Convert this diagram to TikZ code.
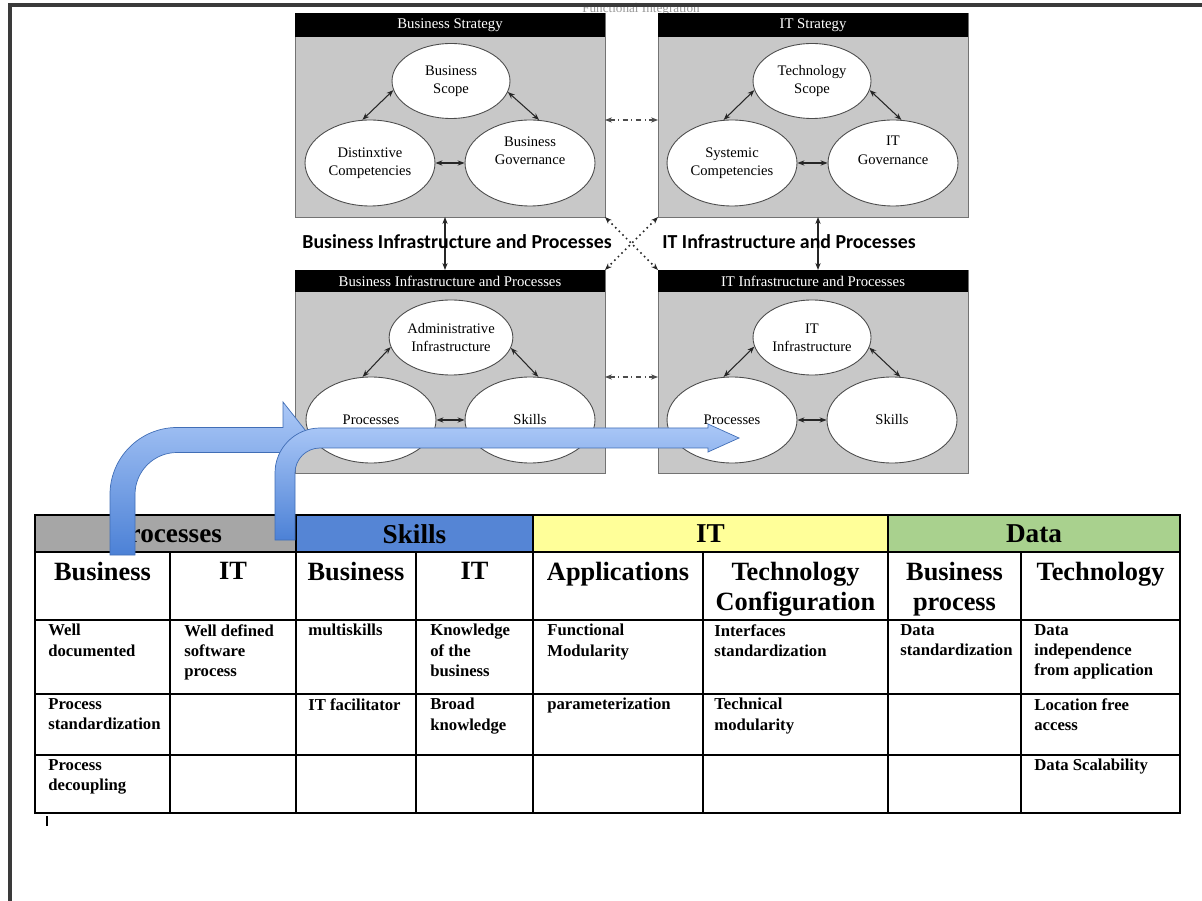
\documentclass[tikz,border=0pt]{standalone}
\usepackage{fontspec}
\setmainfont{Liberation Serif}
\newfontfamily\calibri{Carlito}
\usetikzlibrary{shapes.geometric,arrows.meta}

\definecolor{boxgray}{HTML}{C8C8C8}
\definecolor{procgray}{HTML}{A6A6A6}
\definecolor{skillblue}{HTML}{5585D5}
\definecolor{ityellow}{HTML}{FFFF99}
\definecolor{datagreen}{HTML}{A9D18E}
\definecolor{arrowtop}{HTML}{ABC8F7}
\definecolor{arrowbot}{HTML}{4C81D6}
\definecolor{framegray}{HTML}{3A3A3A}

\tikzset{
  box/.style={draw=black!55, fill=boxgray, line width=0.5pt, inner sep=0pt, outer sep=0pt, minimum width=6.2cm},
  bandtext/.style={text=white, inner sep=0pt, font=\fontsize{8.4}{10}\selectfont},
  bubble/.style={ellipse, draw=black!70, fill=white, line width=0.5pt, inner sep=0pt, align=center, font=\fontsize{8.3}{10.4}\selectfont},
  small/.style={minimum width=2.36cm, minimum height=1.5cm},
  big/.style={minimum width=2.6cm, minimum height=1.72cm},
  link/.style={{Stealth[length=4pt,width=3pt]}-{Stealth[length=4pt,width=3pt]}, line width=0.6pt, black!85},
  midlabel/.style={inner sep=0pt, font=\calibri\bfseries\fontsize{11.3}{13}\selectfont},
  tab/.style={line width=1pt, black},
  grouphead/.style={inner sep=0pt, font=\bfseries\fontsize{15.5}{17}\selectfont},
  subhead/.style={anchor=north, align=center, inner sep=0pt, font=\bfseries\fontsize{15}{17}\selectfont},
  cell/.style={anchor=north west, align=left, inner sep=0pt, font=\bfseries\fontsize{9.5}{11.5}\selectfont},
  bluearrow/.style={top color=arrowtop, bottom color=arrowbot, draw=arrowbot!85!black, line width=0.4pt}
}

\begin{document}
\begin{tikzpicture}[x=0.02cm, y=-0.02cm]
  \useasboundingbox (0,0) rectangle (1202,901);

  \node[inner sep=0pt, text=black!40, font=\fontsize{7.5}{9}\selectfont] (cap) at (641,9) {Functional Integration};

  % the four boxes
  \node[box, minimum height=4.08cm] (bstrat) at (450,115) {};
  \node[box, minimum height=4.08cm] (itstrat) at (813,115) {};
  \node[box, minimum height=4.06cm] (binfra) at (450,371.5) {};
  \node[box, minimum height=4.06cm] (itinfra) at (813,371.5) {};

  \fill (bstrat.north west) rectangle ([yshift=-0.47cm]bstrat.north east);
  \fill (itstrat.north west) rectangle ([yshift=-0.47cm]itstrat.north east);
  \fill (binfra.north west) rectangle ([yshift=-0.44cm]binfra.north east);
  \fill (itinfra.north west) rectangle ([yshift=-0.44cm]itinfra.north east);

  \node[bandtext] (bstrat-t) at ([yshift=-0.24cm]bstrat.north) {Business Strategy};
  \node[bandtext] (itstrat-t) at ([yshift=-0.24cm]itstrat.north) {IT Strategy};
  \node[bandtext] (binfra-t) at ([yshift=-0.22cm]binfra.north) {Business Infrastructure and Processes};
  \node[bandtext] (itinfra-t) at ([yshift=-0.22cm]itinfra.north) {IT Infrastructure and Processes};

  % business strategy
  \node[bubble, small] (bscope) at (451,81) {Business\\Scope};
  \node[bubble, big] (bcomp) at (370,163) {Distinxtive\\Competencies};
  \node[bubble, big] (bgov) at (530,163) {Business\\Governance\\[4pt]};

  % it strategy
  \node[bubble, small] (tscope) at (812,81) {Technology\\Scope};
  \node[bubble, big] (scomp) at (732,163) {Systemic\\Competencies};
  \node[bubble, big] (itgov) at (893,163) {IT\\Governance\\[4pt]};

  % business infrastructure
  \node[bubble, small] (admin) at (451,337.5) {Administrative\\Infrastructure};
  \node[bubble, big] (bproc) at (371,420) {Processes};
  \node[bubble, big] (bskill) at (530,420) {Skills};

  % it infrastructure
  \node[bubble, small] (itinf) at (812,337.5) {IT\\Infrastructure};
  \node[bubble, big] (itproc) at (732,420) {Processes};
  \node[bubble, big] (itskill) at (892,420) {Skills};

  \draw[link] (bscope.189) -- (bcomp.100);
  \draw[link] (bscope.349) -- (bgov.78);
  \draw[link] (bcomp) -- (bgov);
  \draw[link] (tscope.189) -- (scomp.101);
  \draw[link] (tscope.351) -- (itgov.79);
  \draw[link] (scomp) -- (itgov);
  \draw[link] (admin.189) -- (bproc.101);
  \draw[link] (admin.350) -- (bskill.79);
  \draw[link] (bproc) -- (bskill);
  \draw[link] (itinf.189) -- (itproc.101);
  \draw[link] (itinf.350) -- (itskill.79);
  \draw[link] (itproc) -- (itskill);

  % between the boxes
  \draw[link, black!70, dash dot] ([yshift=-0.1cm]bstrat.east) -- ([yshift=-0.1cm]itstrat.west);
  \draw[link, black!70, dash dot] ([yshift=-0.11cm]binfra.east) -- ([yshift=-0.11cm]itinfra.west);
  \draw[link] ([xshift=-0.1cm]bstrat.south) -- ([xshift=-0.1cm]binfra.north);
  \draw[link] ([xshift=0.1cm]itstrat.south) -- ([xshift=0.1cm]itinfra.north);
  \draw[link, line width=0.9pt, dotted] (bstrat.south east) -- (itinfra.north west);
  \draw[link, line width=0.9pt, dotted] (itstrat.south west) -- (binfra.north east);

  \node[midlabel] (blabel) at (457,242) {Business Infrastructure and Processes};
  \node[midlabel] (itlabel) at (789,242) {IT Infrastructure and Processes};

  % table
  \fill[procgray] (35,515) rectangle (296,552);
  \fill[skillblue] (296,515) rectangle (533,552);
  \fill[ityellow] (533,515) rectangle (888,552);
  \fill[datagreen] (888,515) rectangle (1180,552);
  \draw[tab] (35,515) rectangle (1180,813);
  \foreach \y in {552,620,694,755}
    \draw[tab] (35,\y) -- (1180,\y);
  \foreach \x in {296,533,888}
    \draw[tab] (\x,515) -- (\x,813);
  \foreach \x in {170,416,703,1021}
    \draw[tab] (\x,552) -- (\x,813);

  \node[grouphead] (hproc) at (167,534) {Processes};
  \node[grouphead] (hskill) at (414.5,534) {Skills};
  \node[grouphead] (hit) at (710.5,534) {IT};
  \node[grouphead] (hdata) at (1034,534) {Data};

  \node[subhead] (sb1) at (102.5,562) {Business};
  \node[subhead] (si1) at (233,562) {IT};
  \node[subhead] (sb2) at (356,562) {Business};
  \node[subhead] (si2) at (474.5,562) {IT};
  \node[subhead] (sapp) at (618,562) {Applications};
  \node[subhead] (sconf) at (795.5,562) {Technology\\Configuration};
  \node[subhead] (sbp) at (954.5,562) {Business\\process};
  \node[subhead] (stech) at (1100.5,562) {Technology};

  \node[cell] (c11) at (48,624) {Well\\documented};
  \node[cell] (c12) at (184,624) {Well defined\\software\\process};
  \node[cell] (c13) at (308,624) {multiskills};
  \node[cell] (c14) at (430,624) {Knowledge\\of the\\business};
  \node[cell] (c15) at (547,624) {Functional\\Modularity};
  \node[cell] (c16) at (714,624) {Interfaces\\standardization};
  \node[cell] (c17) at (900,624) {Data\\standardization};
  \node[cell] (c18) at (1034,624) {Data\\independence\\from application};

  \node[cell] (c21) at (48,698) {Process\\standardization};
  \node[cell] (c23) at (308,698) {IT facilitator};
  \node[cell] (c24) at (430,698) {Broad\\knowledge};
  \node[cell] (c25) at (547,698) {parameterization};
  \node[cell] (c26) at (714,698) {Technical\\modularity};
  \node[cell] (c28) at (1034,698) {Location free\\access};

  \node[cell] (c31) at (48,759) {Process\\decoupling};
  \node[cell] (c38) at (1034,759) {Data Scalability};

  % the two bent arrows
  \path[bluearrow] (110,555) -- (110,494.5) .. controls (110,457.5) and (140,427.5) .. (177,427.5)
    -- (283,427.5) -- (283,402) -- (313,440) -- (283,478) -- (283,452.5) -- (177,452.5)
    .. controls (153.8,452.5) and (135,471.3) .. (135,494.5) -- (135,555) -- cycle;
  \path[bluearrow] (275,540) -- (275,473) .. controls (275,448.1) and (295.1,428) .. (320,428)
    -- (708,428) -- (708,424) -- (739,438) -- (708,452) -- (708,448) -- (320,448)
    .. controls (306.2,448) and (295,459.2) .. (295,473) -- (295,540) -- cycle;

  % page edge
  \draw[framegray, line width=0.07cm] (10,901) -- (10,5) -- (1202,5);
  \draw[line width=0.7pt] (47,816) -- (47,826);
\end{tikzpicture}
\end{document}
